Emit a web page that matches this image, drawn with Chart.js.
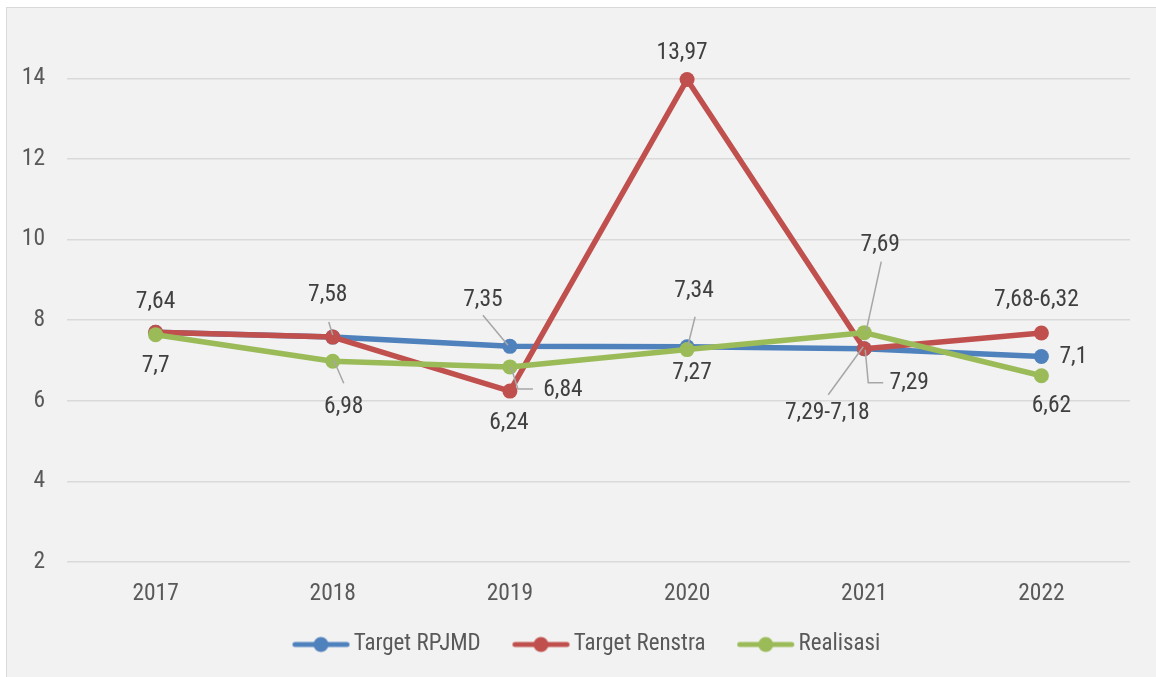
<!DOCTYPE html>
<html lang="id">
  <head>
    <meta charset="UTF-8" />
    <meta name="viewport" content="width=device-width, initial-scale=1.0" />
    <script src="https://cdn.jsdelivr.net/npm/chart.js"></script>
    <title>Target dan Realisasi</title>
    <style>
      html, body { margin: 0; padding: 0; background: #ffffff; overflow: hidden; }
      #frame {
        position: absolute; left: 6px; top: 7px; width: 1200px; height: 720px;
        border-left: 1px solid #d9d9d9; border-top: 1px solid #d9d9d9;
        background: #f2f2f2;
      }
      #myChart { position: absolute; left: -7px; top: -8px; }
    </style>
  </head>
  <body>
    <div id="frame"><canvas id="myChart" width="1156" height="677"></canvas></div>
  <script>
    // data
    const years = ["2017", "2018", "2019", "2020", "2021", "2022"];
    const targetRpjmd = [7.7, 7.58, 7.35, 7.34, 7.29, 7.1];
    const targetRenstra = [7.7, 7.58, 6.24, 13.97, 7.29, 7.68];
    const realisasi = [7.64, 6.98, 6.84, 7.27, 7.69, 6.62];
    const yTicks = [2, 4, 6, 8, 10, 12, 14];

    // label texts as printed on the chart (null = no label)
    const rpjmdLabels = [null, "7,58", "7,35", "7,34", "7,29-7,18", "7,1"];
    const renstraLabels = ["7,64", null, "6,24", "13,97", "7,29", "7,68-6,32"];
    const realisasiLabels = ["7,7", "6,98", "6,84", "7,27", "7,69", "6,62"];

    // where each label sits relative to its point (px), plus leader lines
    const labelPlace = [
      [null,
       { dx: -5, dy: -42, leader: [[-4, -15], [0, -2]] },
       { dx: -27, dy: -46, leader: [[-27, -31], [-2, -1]] },
       { dx: 7, dy: -56, leader: [[8, -30], [1, -2]] },
       { dx: -37, dy: 64, leader: [[-36, 46], [-1, -2]] },
       { dx: 32, dy: 1 }],
      [{ dx: 0, dy: -30 },
       null,
       { dx: -1, dy: 32 },
       { dx: -5, dy: -26 },
       { dx: 45, dy: 34, leader: [[1, 1], [4, 34], [19, 34]] },
       { dx: -5, dy: -33 }],
      [{ dx: 0, dy: 31 },
       { dx: 11, dy: 46, leader: [[1, -1], [11, 22]] },
       { dx: 53, dy: 23, leader: [[1, 0], [8, 22], [23, 22]] },
       { dx: 5, dy: 24 },
       { dx: 16, dy: -88, leader: [[17, -71], [2, -2]] },
       { dx: 10, dy: 30 }]
    ];
    const seriesLabels = [rpjmdLabels, renstraLabels, realisasiLabels];

    const FONT = '"Liberation Sans Narrow", "Arial Narrow", "Roboto Condensed", sans-serif';
    const colors = ["#4f81bd", "#c0504d", "#9bbb59"];

    // legend swatch: line with a dot, painted off-centre so it sits just left of the text
    function legendMark(color) {
      const c = document.createElement("canvas");
      c.width = 87; c.height = 18;
      const g = c.getContext("2d");
      g.strokeStyle = color; g.lineWidth = 5; g.lineCap = "round";
      g.beginPath(); g.moveTo(31.5, 9); g.lineTo(83.5, 9); g.stroke();
      g.fillStyle = color;
      g.beginPath(); g.arc(57.5, 9, 7.5, 0, Math.PI * 2); g.fill();
      return c;
    }

    const pointLabels = {
      id: "pointLabels",
      afterDatasetsDraw(chart) {
        const ctx = chart.ctx;
        ctx.save();
        ctx.font = "23.5px " + FONT;
        ctx.textAlign = "center";
        ctx.textBaseline = "middle";
        ctx.strokeStyle = "#a6a6a6";
        ctx.lineWidth = 1.5;
        ctx.fillStyle = "#404040";
        seriesLabels.forEach((texts, ds) => {
          const meta = chart.getDatasetMeta(ds);
          texts.forEach((t, i) => {
            if (!t) return;
            const pt = meta.data[i];
            const pl = labelPlace[ds][i];
            if (pl.leader) {
              ctx.beginPath();
              pl.leader.forEach(([lx, ly], k) => {
                if (k === 0) ctx.moveTo(pt.x + lx, pt.y + ly);
                else ctx.lineTo(pt.x + lx, pt.y + ly);
              });
              ctx.stroke();
            }
            ctx.fillText(t, pt.x + pl.dx, pt.y + pl.dy);
          });
        });
        ctx.restore();
      }
    };

    function line(label, data, color, order) {
      return {
        label: label,
        data: data,
        borderColor: color,
        backgroundColor: color,
        borderWidth: 5.5,
        pointRadius: 7.5,
        pointBorderWidth: 0,
        pointHoverRadius: 7.5,
        borderJoinStyle: "round",
        tension: 0,
        order: order
      };
    }

    const ctx = document.getElementById("myChart");
    new Chart(ctx, {
      type: "line",
      data: {
        labels: years,
        datasets: [
          line("Target RPJMD", targetRpjmd, colors[0], 2),
          line("Target Renstra", targetRenstra, colors[1], 1),
          line("Realisasi", realisasi, colors[2], 0)
        ]
      },
      options: {
        responsive: false,
        animation: false,
        devicePixelRatio: 1,
        layout: { padding: { left: 22, right: 26, top: 38, bottom: 11 } },
        plugins: {
          tooltip: { enabled: false },
          legend: {
            position: "bottom",
            labels: {
              usePointStyle: true,
              pointStyleWidth: 70.5,
              padding: 11,
              color: "#595959",
              font: { family: FONT, size: 23 },
              sort: (a, b) => a.datasetIndex - b.datasetIndex,
              generateLabels(chart) {
                const items = Chart.defaults.plugins.legend.labels.generateLabels(chart);
                items.forEach(it => { it.pointStyle = legendMark(colors[it.datasetIndex]); });
                return items;
              }
            }
          }
        },
        scales: {
          x: {
            offset: true,
            grid: { display: false },
            border: { display: false },
            ticks: {
              color: "#595959",
              font: { family: FONT, size: 23.5 },
              padding: 10,
              autoSkip: false,
              maxRotation: 0
            },
            afterFit(scale) { scale.height = 60; }
          },
          y: {
            min: 2,
            max: 15,
            border: { display: false },
            grid: { color: "#d9d9d9", lineWidth: 1.5, drawTicks: false },
            ticks: {
              color: "#595959",
              font: { family: FONT, size: 23.5 },
              padding: 22
            },
            afterBuildTicks(scale) { scale.ticks = yTicks.map(v => ({ value: v })); },
            afterFit(scale) { scale.width = 45; }
          }
        }
      },
      plugins: [pointLabels]
    });
  </script>
  </body>
</html>
